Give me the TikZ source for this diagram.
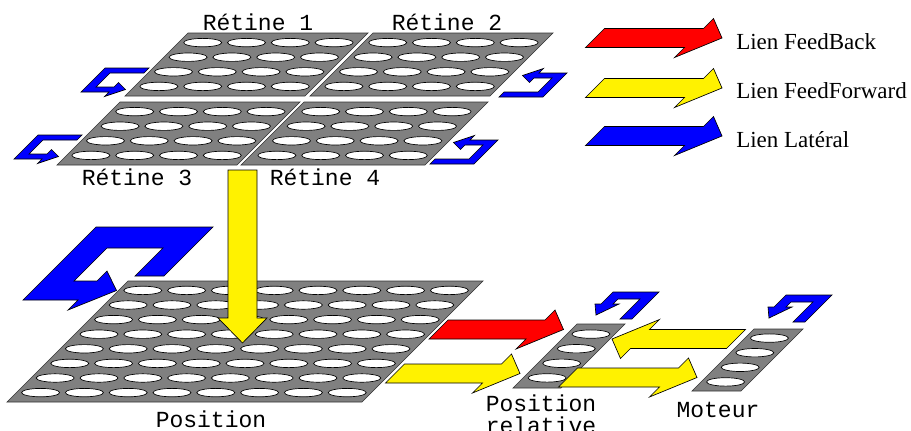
\documentclass[tikz,border=0pt]{standalone}
\usepackage{fontspec}
\setmainfont{Liberation Serif}
\setmonofont{Liberation Mono}
\usetikzlibrary{positioning}

% a slanted sheet of cells: corner x, corner y, width, height, columns, rows
\newcommand{\retina}[6]{%
  \filldraw[sheet] (#1,#2) -- ++(#3,0) -- ++(-#4,#4) -- ++(-#3,0) -- cycle;
  \foreach \col in {1,...,#5}{
    \foreach \row in {1,...,#6}{
      \pgfmathsetmacro{\hv}{#4/2+(\row-(#6+1)/2)*14.6}
      \pgfmathsetmacro{\hu}{#3/2+(\col-(#5+1)/2)*43.8-\hv}
      \draw[hole] (#1+\hu,#2+\hv) ellipse (19 and 4.2);
    }
  }%
}

% flat arrow lying on the sheet plane: style, tail centre, length, extra transform
\newcommand{\flatarrow}[4]{%
  \begin{scope}[shift={#2}, xslant=1, #4]
    \filldraw[#1] (0,-9.5) -- (#3-28,-9.5) -- (#3-28,-19.5) -- (#3,0)
      -- (#3-28,19.5) -- (#3-28,9.5) -- (0,9.5) -- cycle;
  \end{scope}}

% lateral loops
\newcommand{\bigloop}[1]{%
  \begin{scope}[shift={#1}, xslant=1]
    \filldraw[lateral] (0,-73) -- (117,-73) -- (117,-24) -- (88,-24) -- (88,-52)
      -- (32,-52) -- (32,-19) -- (55,-19) -- (55,-29) -- (84,-9.5) -- (55,10)
      -- (55,0) -- (0,0) -- cycle;
  \end{scope}}
\newcommand{\smallloop}[2]{%
  \begin{scope}[shift={#1}, xslant=1, #2]
    \filldraw[lateral] (0,-24) -- (44,-24) -- (44,-19) -- (10,-19) -- (10,-5)
      -- (28,-5) -- (28,-9.5) -- (42,-2.5) -- (28,4.5) -- (28,0) -- (0,0) -- cycle;
  \end{scope}}
\newcommand{\toploop}[1]{%
  \begin{scope}[shift={#1}, xslant=1]
    \filldraw[lateral] (0,0) -- (46,0) -- (46,27) -- (34,27) -- (34,7) -- (12,7)
      -- (12,12) -- (18,12) -- (6,23) -- (-6,12) -- (0,12) -- cycle;
  \end{scope}}

\begin{document}
\begin{tikzpicture}[x=0.75pt, y=-0.75pt,
  sheet/.style={fill=gray, draw=black!80, line width=0.5pt},
  hole/.style={fill=white, draw=black, line width=0.5pt},
  link/.style={draw=black, line width=0.5pt, line join=miter},
  feedback/.style={link, fill=red},
  feedforward/.style={link, fill=yellow},
  lateral/.style={link, fill=blue},
  mono/.style={font=\ttfamily\fontsize{17.25}{16}\selectfont, inner sep=0pt},
  legend/.style={font=\fontsize{17.25}{20}\selectfont, inner sep=0pt, anchor=base west}
]
\useasboundingbox (0,0) rectangle (911,430);

% retinas
\retina{188}{33}{180}{63}{4}{4}
\retina{373}{33}{180}{63}{4}{4}
\retina{120}{102}{180}{63}{4}{4}
\retina{304}{102}{184}{63}{4}{4}
\smallloop{(81,92)}{}
\smallloop{(14,159)}{}
\smallloop{(567,73)}{rotate=180}
\smallloop{(498,140)}{rotate=180}

% maps
\retina{128}{281}{355}{121}{8}{8}
\retina{577}{324}{48}{64}{1}{4}
\retina{754}{329}{49}{62}{1}{4}
\bigloop{(23,300)}
\toploop{(613,292)}
\toploop{(786,295)}

% links between maps
\filldraw[feedforward] (228,170) -- (257,170) -- (257,318) -- (267,318)
  -- (242.5,343) -- (218,318) -- (228,318) -- cycle;
\flatarrow{feedback}{(438.5,329.5)}{125}{}
\flatarrow{feedforward}{(395,373.5)}{125}{}
\flatarrow{feedforward}{(568,377.5)}{129}{}
\flatarrow{feedforward}{(736,339)}{124}{xscale=-1}

% legend
\flatarrow{feedback}{(595,38)}{127}{}
\flatarrow{feedforward}{(595,88)}{127}{}
\flatarrow{lateral}{(595,136)}{127}{}
\node[legend] (lfb) at (736,49) {Lien FeedBack};
\node[legend] (lff) at (736,98) {Lien FeedForward};
\node[legend] (llat) at (736,147) {Lien Latéral};

% labels
\node[mono, anchor=base] (r1) at (258,30) {Rétine 1};
\node[mono, anchor=base] (r2) at (447,30) {Rétine 2};
\node[mono, anchor=base] (r3) at (137,185) {Rétine 3};
\node[mono, anchor=base] (r4) at (325,185) {Rétine 4};
\node[mono, anchor=base] (pos) at (211,427) {Position};
\node[mono, anchor=base, align=center] (posrel) at (541,433) {Position\\relative};
\node[mono, anchor=base] (mot) at (718,417) {Moteur};
\end{tikzpicture}
\end{document}
